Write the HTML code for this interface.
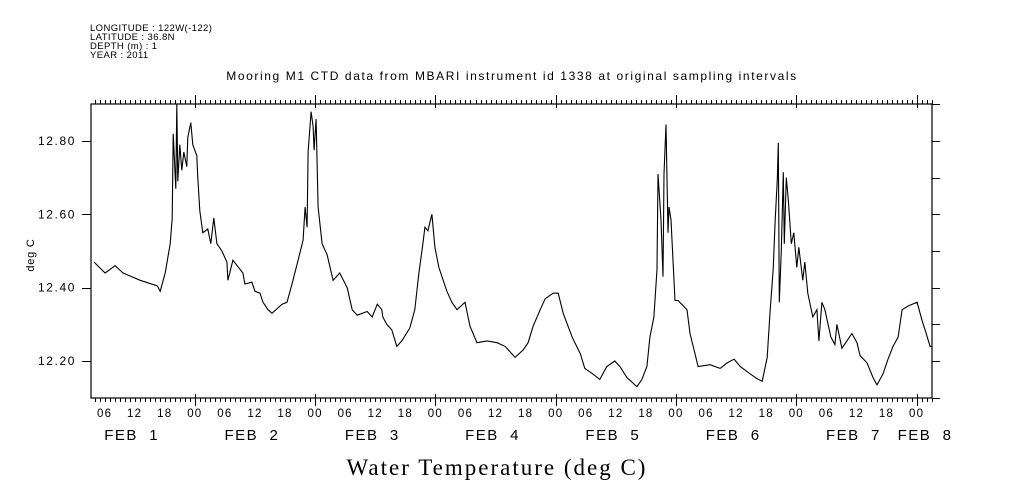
<!DOCTYPE html>
<html><head><meta charset="utf-8"><style>
html,body{margin:0;padding:0;background:#fff;}
svg{display:block;}
text{font-family:"Liberation Sans",sans-serif;fill:#000;white-space:pre;}
</style></head><body>
<svg id="chart" width="1009" height="504" viewBox="0 0 1009 504" xmlns="http://www.w3.org/2000/svg">
<g font-size="9.5" letter-spacing="0.4">
<text x="90" y="31">LONGITUDE : 122W(-122)</text>
<text x="90" y="40">LATITUDE : 36.8N</text>
<text x="90" y="49">DEPTH (m) : 1</text>
<text x="90" y="58">YEAR : 2011</text>
</g>
<text x="512" y="80" font-size="12" letter-spacing="1.6" text-anchor="middle">Mooring M1 CTD data from MBARI instrument id 1338 at original sampling intervals</text>
<text transform="translate(34,255) rotate(-90)" font-size="11" letter-spacing="0.8" text-anchor="middle">deg C</text>
<text x="497" y="475" font-size="23" letter-spacing="2" text-anchor="middle" style="font-family:'Liberation Serif',serif">Water Temperature (deg C)</text>
<defs><clipPath id="clip"><rect x="91" y="104" width="841" height="294"/></clipPath></defs>
<g id="axes"></g>
<g id="series" clip-path="url(#clip)"></g>
</svg>
<script>
const times = [3.9,6.1,8.1,9.7,13.1,16.5,17.1,18.1,19.1,19.5,19.7,20.2,20.4,20.6,21.0,21.4,21.8,22.4,22.6,23.2,23.6,24.4,24.6,25.0,25.6,26.6,27.2,27.8,28.4,29.4,30.4,30.6,31.6,33.6,34.0,35.4,36.0,37.0,37.6,38.6,39.4,41.4,42.4,43.4,44.6,45.6,46.0,46.4,46.6,47.2,47.6,47.8,48.2,48.6,49.4,50.4,51.6,52.9,54.4,55.4,56.4,58.4,59.4,60.4,61.3,61.5,62.3,63.3,64.3,65.3,66.9,67.9,68.7,69.5,69.9,70.5,71.3,71.9,72.7,74.3,75.3,76.3,77.9,78.9,80.3,82.3,84.3,85.9,87.9,89.5,90.5,91.5,92.9,93.9,95.5,96.5,97.5,99.3,100.9,101.8,103.4,104.8,106.2,107.8,108.8,110.2,112.2,113.2,114.2,114.8,115.6,116.2,116.4,117.0,117.4,117.6,118.0,118.4,118.6,119.0,119.4,119.8,120.4,122.2,122.8,123.8,124.4,126.8,128.8,130.2,131.6,132.8,134.8,136.4,137.2,138.2,138.8,139.4,139.8,140.2,140.4,140.6,141.0,141.4,141.6,142.0,142.4,143.0,143.5,144.1,144.5,145.3,145.7,146.3,147.3,148.1,148.5,149.1,149.7,150.9,151.7,152.1,153.1,154.1,155.1,156.1,156.7,158.1,159.3,160.1,161.3,162.3,163.3,164.3,165.1,166.3,168.1,169.1,169.7,170.7,171.3];
const temps = [12.47,12.44,12.46,12.44,12.42,12.405,12.39,12.44,12.52,12.59,12.82,12.67,12.90,12.69,12.79,12.72,12.77,12.73,12.81,12.85,12.79,12.76,12.70,12.61,12.55,12.56,12.52,12.59,12.52,12.50,12.47,12.42,12.475,12.44,12.41,12.415,12.39,12.385,12.36,12.34,12.33,12.355,12.36,12.41,12.475,12.53,12.62,12.565,12.77,12.88,12.84,12.775,12.86,12.62,12.52,12.49,12.42,12.44,12.40,12.34,12.325,12.335,12.32,12.355,12.34,12.32,12.30,12.285,12.24,12.255,12.29,12.34,12.44,12.52,12.565,12.555,12.60,12.51,12.455,12.39,12.36,12.34,12.36,12.295,12.25,12.255,12.25,12.24,12.21,12.23,12.25,12.295,12.34,12.37,12.385,12.385,12.33,12.265,12.22,12.18,12.165,12.15,12.185,12.20,12.185,12.155,12.13,12.15,12.185,12.265,12.32,12.45,12.71,12.585,12.43,12.71,12.845,12.55,12.62,12.585,12.475,12.365,12.365,12.34,12.275,12.22,12.185,12.19,12.18,12.195,12.205,12.185,12.165,12.15,12.145,12.21,12.34,12.45,12.585,12.695,12.795,12.36,12.50,12.715,12.52,12.70,12.64,12.52,12.55,12.455,12.51,12.42,12.47,12.385,12.32,12.34,12.255,12.36,12.34,12.265,12.245,12.30,12.235,12.255,12.275,12.25,12.215,12.195,12.155,12.135,12.165,12.205,12.24,12.265,12.34,12.35,12.36,12.31,12.285,12.24,12.24];
const yTickValues = [12.20,12.40,12.60,12.80];
const yTickLabels = ["12.20","12.40","12.60","12.80"];
const dayLabels = ["FEB  1","FEB  2","FEB  3","FEB  4","FEB  5","FEB  6","FEB  7","FEB  8"];

const NS='http://www.w3.org/2000/svg';
const L=91,R=932,T=104,B=398;
const x = t => 74.5 + t*5.0125;
const y = v => 141 + (12.8 - v)*366.7;
const axes=document.getElementById('axes');
const series=document.getElementById('series');
function mk(tag,parent,attrs){const e=document.createElementNS(NS,tag);for(const k in attrs)e.setAttribute(k,attrs[k]);parent.appendChild(e);return e;}

const frame=mk('rect',axes,{x:L,y:T,width:R-L,height:B-T,fill:'none',stroke:'#000','stroke-width':1.2});



let d='';
for(let h=4;h<=171;h++){
  const xx=Math.round(x(h))+0.5, major=(h%24===0);
  d+=`M${xx},${B}v${major?8:4}M${xx},${T}v${major?-9:-4}`;
  if(major){d+=`M${xx},${B}v-4M${xx},${T}v4`;}
}
for(let v=12.1;v<=12.905;v+=0.1){const yy=Math.round(y(v))+0.5;d+=`M${R},${yy}h8`;}
yTickValues.forEach(v=>{const yy=Math.round(y(v))+0.5;d+=`M${L},${yy}h-9`;});
const ticks=mk('path',axes,{d:d,stroke:'#000','stroke-width':1,fill:'none'});



yTickValues.forEach((v,i)=>{
  const t=mk('text',axes,{x:76,y:y(v)+4,'font-size':12,'letter-spacing':1.6,'text-anchor':'end'});
  t.textContent=yTickLabels[i];
  
  
});
for(let h=6;h<=168;h+=6){
  const t=mk('text',axes,{x:x(h),y:417,'font-size':11.5,'letter-spacing':1.2,'text-anchor':'middle'});
  t.textContent=String(h%24).padStart(2,'0');
  
  
}
dayLabels.forEach((s,i)=>{
  const cx = i<7 ? x(i*24+12)-3 : 925;
  const t=mk('text',axes,{x:cx,y:440,'font-size':15,'letter-spacing':1.5,'text-anchor':'middle'});
  t.textContent=s;
  
  
});

let pd='';
times.forEach((t,i)=>{pd+=(i?'L':'M')+x(t).toFixed(1)+','+y(temps[i]).toFixed(1);});
const line=mk('path',series,{d:pd,fill:'none',stroke:'#000','stroke-width':1.1,'stroke-linejoin':'miter'});


</script>
</body></html>
